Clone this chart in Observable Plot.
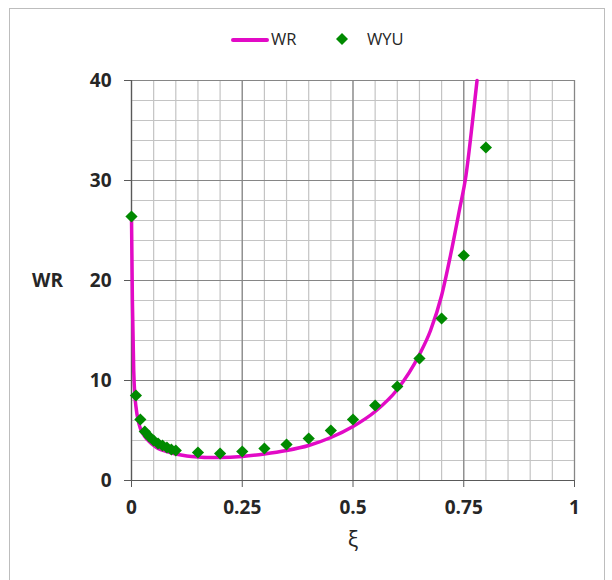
<!DOCTYPE html>
<html><head><meta charset="utf-8">
<script src="https://cdn.jsdelivr.net/npm/d3@7"></script>
<script src="https://cdn.jsdelivr.net/npm/@observablehq/plot@0.6"></script>
<style>
body{margin:0;background:#fff;font-family:"Open Sans",sans-serif;}
#frame{position:absolute;left:9px;top:8px;width:596px;height:590px;border:1px solid #bdbdbd;box-sizing:border-box;}
#legend{position:absolute;left:0;top:28px;width:612px;height:22px;font-size:16.5px;color:#262626;}
#chart{position:absolute;left:0;top:60px;}
.lg{position:absolute;top:0;line-height:22px;}
</style></head>
<body>
<div id="frame"></div>
<div id="legend">
  <div class="lg" style="left:231px;top:10px;width:38px;height:4px;background:#e20ac6;border-radius:2px;"></div>
  <div class="lg" style="left:271px;">WR</div>
  <svg class="lg" style="left:335px;top:4px;" width="14" height="14"><path d="M7 1 L13 7 L7 13 L1 7Z" fill="#008a00"/></svg>
  <div class="lg" style="left:367px;">WYU</div>
</div>
<div id="chart"></div>
<script>
const wyuX = [0, 0.01, 0.02, 0.03, 0.04, 0.05, 0.06, 0.07, 0.08, 0.09, 0.1, 0.15, 0.2, 0.25, 0.3, 0.35, 0.4, 0.45, 0.5, 0.55, 0.6, 0.65, 0.7, 0.75, 0.8];
const wyuY = [26.4, 8.5, 6.1, 4.9, 4.4, 4.0, 3.7, 3.5, 3.3, 3.1, 3.0, 2.8, 2.7, 2.9, 3.2, 3.6, 4.2, 5.0, 6.1, 7.5, 9.4, 12.2, 16.2, 22.5, 33.3];
const wrX = [0, 0.002, 0.005, 0.008, 0.01, 0.015, 0.02, 0.03, 0.04, 0.05, 0.06, 0.08, 0.1, 0.125, 0.15, 0.175, 0.2, 0.25, 0.3, 0.35, 0.4, 0.45, 0.5, 0.55, 0.6, 0.65, 0.675, 0.7, 0.72, 0.74, 0.755, 0.77, 0.78];
const wrY = [26.4, 18, 11, 8.3, 7.4, 6.0, 5.2, 4.4, 3.9, 3.5, 3.2, 2.9, 2.65, 2.45, 2.35, 2.3, 2.3, 2.4, 2.65, 3.0, 3.5, 4.3, 5.4, 6.9, 9.1, 12.6, 15, 18.5, 22.5, 27, 30.5, 36, 40];
const xTicks = [0, 0.25, 0.5, 0.75, 1];
const yTicks = [0, 10, 20, 30, 40];
const xMinor = d3.range(0, 21).map(i => i / 20);
const yMinor = d3.range(0, 21).map(i => i * 2);

const wyu = wyuX.map((x, i) => ({x, y: wyuY[i]}));
const wr = wrX.map((x, i) => ({x, y: wrY[i]}));

const chart = Plot.plot({
  width: 612, height: 500,
  marginLeft: 131, marginRight: 38, marginTop: 20, marginBottom: 80,
  style: {fontFamily: "'Open Sans', sans-serif", background: "transparent"},
  x: {domain: [0, 1]},
  y: {domain: [0, 40]},
  marks: [
    Plot.gridX(xMinor, {stroke: "#c4c4c4", strokeOpacity: 1, strokeWidth: 1.2}),
    Plot.gridY(yMinor, {stroke: "#c4c4c4", strokeOpacity: 1, strokeWidth: 1.2}),
    Plot.gridX(xTicks, {stroke: "#868686", strokeOpacity: 1, strokeWidth: 1.2}),
    Plot.gridY(yTicks, {stroke: "#868686", strokeOpacity: 1, strokeWidth: 1.2}),
    Plot.ruleX([0], {stroke: "#595959", strokeWidth: 1.2}),
    Plot.ruleY([0], {stroke: "#595959", strokeWidth: 1.2}),
    Plot.axisX({ticks: xTicks, tickFormat: d => String(d), tickSize: 7, tickPadding: 13, fontSize: 19, fontWeight: "bold", color: "#262626", stroke: "#595959", label: null}),
    Plot.axisY({ticks: yTicks, tickFormat: d => String(d), tickSize: 7, tickPadding: 13, fontSize: 19, fontWeight: "bold", color: "#262626", stroke: "#595959", label: null}),
    Plot.text(["ξ"], {frameAnchor: "bottom", dy: 66, fontSize: 22, fill: "#262626"}),
    Plot.text(["WR"], {frameAnchor: "left", dx: -84, textAnchor: "middle", fontSize: 19, fontWeight: "bold", fill: "#262626"}),
    Plot.line(wr, {x: "x", y: "y", stroke: "#e20ac6", strokeWidth: 3.5, curve: "monotone-x"}),
    Plot.dot(wyu, {x: "x", y: "y", symbol: "diamond2", r: 5.5, fill: "#008a00", stroke: "none"})
  ]
});
document.getElementById("chart").appendChild(chart);
</script>
</body></html>
